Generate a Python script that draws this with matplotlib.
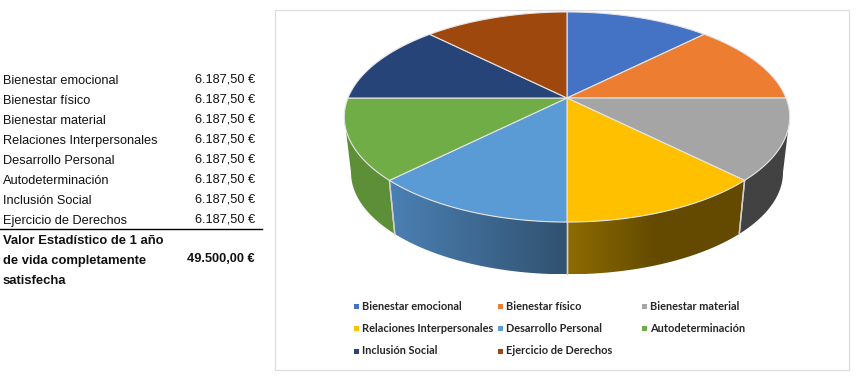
import numpy as np
import matplotlib
matplotlib.use("Agg")
import matplotlib.pyplot as plt
from matplotlib.patches import Polygon, Rectangle

categorias = ["Bienestar emocional", "Bienestar físico", "Bienestar material",
              "Relaciones Interpersonales", "Desarrollo Personal", "Autodeterminación",
              "Inclusión Social", "Ejercicio de Derechos"]
valores = [6187.50, 6187.50, 6187.50, 6187.50, 6187.50, 6187.50, 6187.50, 6187.50]
importes = ["6.187,50 €", "6.187,50 €", "6.187,50 €", "6.187,50 €",
            "6.187,50 €", "6.187,50 €", "6.187,50 €", "6.187,50 €"]
total_lineas = ["Valor Estadístico de 1 año", "de vida completamente", "satisfecha"]
total = "49.500,00 €"
colores = ["#4472c4", "#ed7d31", "#a5a5a5", "#ffc000", "#5b9bd5", "#70ad47", "#264478", "#9e480e"]
# colour of the side wall, left end and right end
pared = {2: ("#424242", "#424242"), 3: ("#8f6c00", "#634a00"),
         4: ("#4b80b4", "#31526f"), 5: ("#5d8f38", "#5d8f38")}

CX, CY = 567, 98


def rim(theta):
    # perspective view of the pie circle, theta clockwise from the top
    u, v = np.sin(theta), -np.cos(theta)
    d = 1 - 0.181 * v
    return 219 * u / d, 101.6 * v / d


def top(theta):
    x, y = rim(theta)
    return np.column_stack([CX + x, CY + y])


def bottom(theta):
    x, y = rim(theta)
    return np.column_stack([CX + 0.97 * x, 154 + 0.97 * y])


fig = plt.figure(figsize=(8.68, 3.78), dpi=100)
ax = fig.add_axes([0, 0, 1, 1])
ax.set_xlim(0, 868)
ax.set_ylim(378, 0)
ax.axis("off")

# table on the left
ax.plot([0, 262], [228.5, 228.5], color="black", lw=1)
for i, (c, imp) in enumerate(zip(categorias, importes)):
    y = 84 + 20 * i
    ax.text(3, y, c, fontsize=9.15, family="Liberation Sans", va="baseline", color="#111111")
    ax.text(255, y - 1, imp, fontsize=9.15, family="Liberation Sans", va="baseline", ha="right", color="#111111")
for i, t in enumerate(total_lineas):
    ax.text(3, 244 + 20.2 * i, t, fontsize=9.35, family="Liberation Sans", weight="bold",
            va="baseline", color="#111111")
ax.text(255, 262, total, fontsize=9.15, family="Liberation Sans", weight="bold",
        va="baseline", ha="right", color="#111111")

# chart frame
ax.add_patch(Rectangle((275, 10), 574, 360, fc="white", ec="#dedede", lw=0.9))

angulos = np.concatenate([[0], np.cumsum(valores)]) / np.sum(valores) * 2 * np.pi
visible = (np.radians(100.4), np.radians(259.6))

# side walls with gradient
for i, (c0, c1) in pared.items():
    a0, a1 = max(angulos[i], visible[0]), min(angulos[i + 1], visible[1])
    t = np.linspace(a0, a1, 60)
    pts = np.vstack([top(t), bottom(t)[::-1]])
    poly = Polygon(pts, closed=True, fc="none", ec="none")
    ax.add_patch(poly)
    rgb0, rgb1 = np.array(matplotlib.colors.to_rgb(c0)), np.array(matplotlib.colors.to_rgb(c1))
    grad = np.linspace(0, 1, 128)[:, None]
    img = (rgb0 * (1 - grad) + rgb1 * grad)[None, :, :]
    if i == 3:
        # yellow wall reaches its dark tone about half way
        img = (rgb0 * (1 - np.minimum(grad * 2, 1)) + rgb1 * np.minimum(grad * 2, 1))[None, :, :]
    im = ax.imshow(img, extent=[pts[:, 0].min(), pts[:, 0].max(), pts[:, 1].max(), pts[:, 1].min()],
                   aspect="auto", zorder=2)
    im.set_clip_path(poly)
    # seams between walls
    for a in (a0, a1):
        if visible[0] < a < visible[1]:
            seam = np.vstack([top(np.array([a])), bottom(np.array([a]))])
            ax.plot(seam[:, 0], seam[:, 1], color="#d0d0d0", lw=1, zorder=3)
ax.set_xlim(0, 868)
ax.set_ylim(378, 0)

# top face
for i, c in enumerate(colores):
    t = np.linspace(angulos[i], angulos[i + 1], 60)
    pts = np.vstack([[CX, CY], top(t)])
    ax.add_patch(Polygon(pts, closed=True, fc=c, ec="#e4e4e4", lw=0.8, zorder=4, joinstyle="round"))

# legend
leg_x = [356, 500, 644]
leg_y = [306, 328, 351]
for i, (c, col) in enumerate(zip(categorias, colores)):
    x, y = leg_x[i % 3], leg_y[i // 3]
    ax.add_patch(Rectangle((x - 2.5, y - 2.5), 5, 5, fc=col, ec="none"))
    ax.text(x + 6, y, c, fontsize=7.95, family="Lato", weight="bold", va="center", color="#262626")

fig.savefig("out.png", dpi=100)
